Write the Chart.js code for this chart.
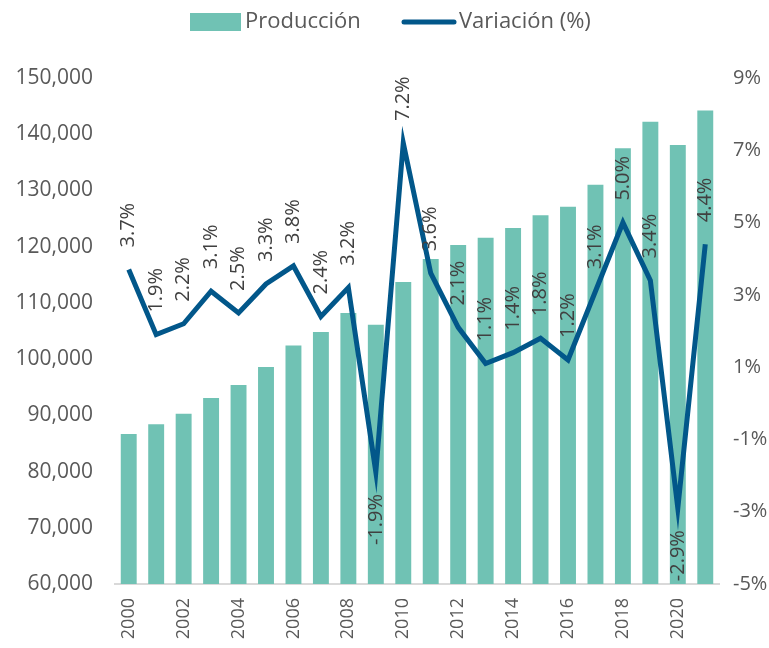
<!DOCTYPE html>
<html>
<head>
<meta charset="utf-8">
<script src="https://cdn.jsdelivr.net/npm/chart.js@4/dist/chart.umd.min.js"></script>
<style>
  html, body { margin: 0; padding: 0; background: #fff; }
  #wrap { width: 769px; height: 648px; }
</style>
</head>
<body>
<div id="wrap"><canvas id="prodChart" width="769" height="648"></canvas></div>
<script>
// años
const years = ['2000','2001','2002','2003','2004','2005','2006','2007','2008','2009','2010',
               '2011','2012','2013','2014','2015','2016','2017','2018','2019','2020','2021'];

// producción (eje izquierdo)
const produccion = [86700, 88400, 90300, 93100, 95400, 98600, 102400, 104800, 108200, 106100, 113700,
                    117800, 120300, 121600, 123300, 125600, 127100, 131000, 137500, 142200, 138100, 144200];

// variación anual en % (eje derecho)
const variacion = [3.7, 1.9, 2.2, 3.1, 2.5, 3.3, 3.8, 2.4, 3.2, -1.9, 7.2,
                   3.6, 2.1, 1.1, 1.4, 1.8, 1.2, 3.1, 5.0, 3.4, -2.9, 4.4];

// ticks de los ejes
const leftTicks = [60000, 70000, 80000, 90000, 100000, 110000, 120000, 130000, 140000, 150000];
const rightTicks = [-5, -3, -1, 1, 3, 5, 7, 9];

const FONT = "'Open Sans', 'Noto Sans', sans-serif";
const TEXT_GRAY = '#595959';
const BAR_COLOR = '#70c2b4';
const LINE_COLOR = '#02578a';

// etiquetas de datos giradas sobre la línea
const lineLabels = {
    id: 'lineLabels',
    afterDatasetsDraw(chart) {
        const meta = chart.getDatasetMeta(1);
        const ctx = chart.ctx;
        ctx.save();
        ctx.font = '20px ' + FONT;
        ctx.fillStyle = '#404040';
        ctx.textBaseline = 'middle';
        meta.data.forEach((pt, i) => {
            const v = variacion[i];
            const txt = v.toFixed(1) + '%';
            ctx.save();
            if (v >= 0) {
                ctx.translate(pt.x, pt.y - 22);
                ctx.rotate(-Math.PI / 2);
                ctx.textAlign = 'left';
            } else {
                ctx.translate(pt.x, pt.y + 22);
                ctx.rotate(-Math.PI / 2);
                ctx.textAlign = 'right';
            }
            ctx.fillText(txt, 0, 0);
            ctx.restore();
        });
        ctx.restore();
    }
};

// leyenda superior
const topLegend = {
    id: 'topLegend',
    afterDraw(chart) {
        const ctx = chart.ctx;
        ctx.save();
        ctx.font = '22px ' + FONT;
        ctx.textBaseline = 'middle';
        ctx.textAlign = 'left';
        const cy = 22;
        ctx.fillStyle = BAR_COLOR;
        ctx.fillRect(190, cy - 9, 51, 18);
        ctx.fillStyle = TEXT_GRAY;
        ctx.fillText(chart.data.datasets[0].label, 245, cy);
        ctx.strokeStyle = LINE_COLOR;
        ctx.lineWidth = 5;
        ctx.lineCap = 'round';
        ctx.beginPath();
        ctx.moveTo(404, cy);
        ctx.lineTo(454, cy);
        ctx.stroke();
        ctx.fillText(chart.data.datasets[1].label, 459, cy);
        ctx.restore();
    }
};

document.addEventListener('DOMContentLoaded', function() {
    const ctx = document.getElementById('prodChart').getContext('2d');
    window.prodChart = new Chart(ctx, {
        type: 'bar',
        data: {
            labels: years,
            datasets: [{
                label: 'Producción',
                data: produccion,
                backgroundColor: BAR_COLOR,
                yAxisID: 'y',
                order: 2,
                categoryPercentage: 1,
                barPercentage: 0.58
            }, {
                type: 'line',
                label: 'Variación (%)',
                data: variacion,
                borderColor: LINE_COLOR,
                backgroundColor: LINE_COLOR,
                borderWidth: 5,
                pointRadius: 0,
                tension: 0,
                yAxisID: 'y1',
                order: 1
            }]
        },
        options: {
            responsive: false,
            animation: false,
            layout: { padding: { top: 78, right: 0, bottom: 0, left: 0 } },
            plugins: {
                legend: { display: false },
                tooltip: { enabled: false }
            },
            scales: {
                x: {
                    grid: { display: false, drawTicks: false },
                    border: { display: true, color: '#d9d9d9', width: 2 },
                    ticks: {
                        autoSkip: false,
                        minRotation: 90,
                        maxRotation: 90,
                        padding: 14,
                        color: TEXT_GRAY,
                        font: { family: FONT, size: 18 },
                        callback: function(val, idx) {
                            return idx % 2 === 0 ? this.getLabelForValue(val) : '';
                        }
                    },
                    afterFit: s => { s.height = 64; }
                },
                y: {
                    position: 'left',
                    min: leftTicks[0],
                    max: leftTicks[leftTicks.length - 1],
                    grid: { display: false, drawTicks: false },
                    border: { display: false },
                    afterBuildTicks: s => { s.ticks = leftTicks.map(v => ({ value: v })); },
                    ticks: {
                        padding: 22,
                        color: TEXT_GRAY,
                        font: { family: FONT, size: 21 },
                        callback: v => v.toLocaleString('en-US')
                    },
                    afterFit: s => { s.width = 115; }
                },
                y1: {
                    position: 'right',
                    min: rightTicks[0],
                    max: rightTicks[rightTicks.length - 1],
                    grid: { display: false, drawTicks: false },
                    border: { display: false },
                    afterBuildTicks: s => { s.ticks = rightTicks.map(v => ({ value: v })); },
                    ticks: {
                        padding: 14,
                        color: TEXT_GRAY,
                        font: { family: FONT, size: 20 },
                        callback: v => v + '%'
                    },
                    afterFit: s => { s.width = 50; }
                }
            }
        },
        plugins: [lineLabels, topLegend]
    });
});
</script>
</body>
</html>
